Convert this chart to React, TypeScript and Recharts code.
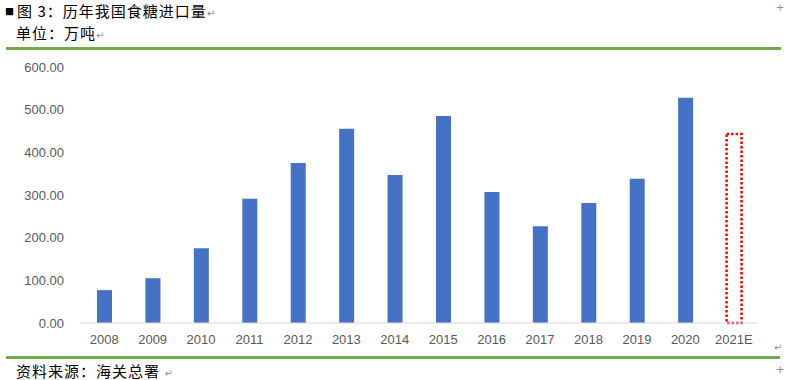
import { Bar, BarChart, XAxis, YAxis } from "recharts";

// 历年我国食糖进口量（万吨），2021E 为预估
const years = ["2008", "2009", "2010", "2011", "2012", "2013", "2014", "2015", "2016", "2017", "2018", "2019", "2020", "2021E"];
const imports = [77, 105, 175, 291, 375, 455, 347, 485, 307, 227, 281, 338, 528, null];
const estimate = [null, null, null, null, null, null, null, null, null, null, null, null, null, 443];
const yTicks = [0, 100, 200, 300, 400, 500, 600];

const data = years.map((year, i) => ({ year, imports: imports[i], estimate: estimate[i] }));

const cjk = '"Noto Sans CJK SC", "Noto Sans", sans-serif';
const tickStyle = { fontSize: 13, fill: "#595959", fontFamily: '"Liberation Sans", Arial, sans-serif' };
const textStyle = { position: "absolute" as const, fontFamily: cjk, fontSize: 15, letterSpacing: 1, color: "#000", lineHeight: "18px", whiteSpace: "nowrap" as const };
const markStyle = { color: "#8c8c8c", fontSize: 10, fontFamily: '"DejaVu Sans", sans-serif', letterSpacing: 0 };

const mark = <span style={markStyle}>↵</span>;

export default function App() {
  return (
    <div style={{ position: "absolute", left: 0, top: 0, width: 786, height: 380, background: "#fff", overflow: "hidden" }}>
      <div style={{ ...textStyle, left: 5, top: 2 }}>
        <span style={{ fontSize: 9, verticalAlign: "2px", marginRight: 2 }}>■</span>图 3：历年我国食糖进口量{mark}
      </div>
      <div style={{ ...textStyle, left: 16, top: 24 }}>单位：万吨{mark}</div>
      <div style={{ ...markStyle, position: "absolute", left: 776, top: 2 }}>+</div>
      <div style={{ position: "absolute", left: 6, top: 47, width: 775, height: 3, background: "#70AD47" }} />

      <div style={{ position: "absolute", left: 0, top: 0 }}>
        <BarChart width={786} height={380} data={data} margin={{ top: 67, right: 28, bottom: 27, left: 0 }} barSize={15}>
          <XAxis
            dataKey="year"
            interval={0}
            tickLine={false}
            tickMargin={6}
            axisLine={{ stroke: "#d9d9d9" }}
            tick={tickStyle}
            height={30}
          />
          <YAxis
            domain={[0, 600]}
            ticks={yTicks}
            tickFormatter={(v: number) => v.toFixed(2)}
            axisLine={false}
            tickLine={false}
            tickMargin={10}
            width={80}
            tick={tickStyle}
          />
          <Bar dataKey="imports" stackId="a" fill="#4472C4" isAnimationActive={false} />
          <Bar
            dataKey="estimate"
            stackId="a"
            fill="#ffffff"
            stroke="#FF0000"
            strokeWidth={2.5}
            strokeDasharray="2.5 2"
            isAnimationActive={false}
          />
        </BarChart>
      </div>

      <div style={{ position: "absolute", left: 6, top: 356, width: 774, height: 3, background: "#70AD47" }} />
      <div style={{ ...markStyle, position: "absolute", left: 774, top: 342 }}>↵</div>
      <div style={{ ...textStyle, left: 16, top: 362 }}>资料来源：海关总署 {mark}</div>
      <div style={{ ...markStyle, position: "absolute", left: 776, top: 364 }}>+</div>
    </div>
  );
}
